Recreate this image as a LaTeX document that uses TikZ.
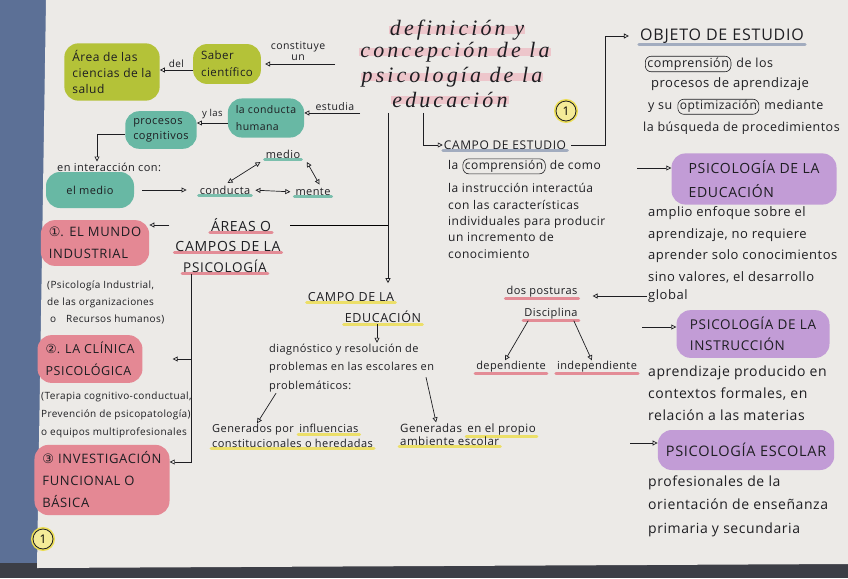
\documentclass[tikz,border=0pt]{standalone}
\usepackage{fontspec}
\setsansfont{Open Sans}
\newfontfamily\hand{Open Sans}[LetterSpace=4]
\newfontfamily\capsf{Open Sans}[LetterSpace=5]
\newfontfamily\titlef{Liberation Serif}[LetterSpace=14]
\newfontfamily\symf{DejaVu Sans}
\usepackage{tikz}
\usetikzlibrary{arrows.meta,positioning,calc}
\pgfdeclarelayer{paper}
\pgfdeclarelayer{bg}
\pgfsetlayers{paper,bg,main}
\definecolor{paper}{RGB}{236,234,231}
\definecolor{edge}{RGB}{92,112,150}
\definecolor{edgedark}{RGB}{60,62,70}
\definecolor{leaf}{RGB}{180,194,56}
\definecolor{aqua}{RGB}{104,184,164}
\definecolor{rose}{RGB}{228,136,148}
\definecolor{lilac}{RGB}{194,156,214}
\definecolor{marker}{RGB}{236,222,84}
\definecolor{pinkline}{RGB}{226,124,136}
\definecolor{slate}{RGB}{150,162,184}
\definecolor{titlepink}{RGB}{238,170,180}
\definecolor{ink}{RGB}{30,30,34}
\newcommand{\hw}[2]{\fontsize{#1}{#2}\selectfont\hand}
\newcommand{\cp}[2]{\fontsize{#1}{#2}\selectfont\capsf}

\begin{document}
\begin{tikzpicture}[x=1pt,y=-1pt,
    txt/.style={inner sep=1pt,text=ink,font=\hw{11}{13}},
    blk/.style={txt,align=left},
    blob/.style={rounded corners=14pt,inner xsep=8pt,inner ysep=7pt,align=left,text=ink},
    circw/.style={txt,draw=ink,line width=0.6pt,rounded corners=6pt,inner xsep=2pt,inner ysep=1.5pt},
    numc/.style={circle,draw=ink,line width=0.8pt,fill=marker!60,minimum size=20pt,inner sep=0pt,
      font=\hw{12}{12},preaction={draw=marker,line width=4pt}},
    ar/.style={-{Triangle[open,length=5pt,width=5pt]},line width=0.7pt,draw=ink},
    dar/.style={{Triangle[open,length=5pt,width=5pt]}-{Triangle[open,length=5pt,width=5pt]},line width=0.7pt,draw=ink},
    ul/.style={line width=3pt,line cap=round,opacity=0.85},
    ttl/.style={inner sep=1pt,text=ink,font={\fontsize{22}{24}\selectfont\titlef\itshape}}
]
\begin{pgfonlayer}{paper}
\fill[edge] (0,0) rectangle (848,578);
\fill[edgedark] (0,563) rectangle (848,578);
\fill[paper] (46,0) -- (848,0) -- (848,564) -- (37,568) -- cycle;
\end{pgfonlayer}
\useasboundingbox (0,0) rectangle (848,578);

% title
\node[ttl] (t1) at (457,30) {definición y};
\node[ttl] (t2) at (455,52) {concepción de la};
\node[ttl] (t3) at (452,77) {psicología de la};
\node[ttl] (t4) at (450,100) {educación};
\node[numc] (n1) at (566,111) {1};

% upper left
\node[blob,fill=leaf,font=\hw{12}{16}] (area) at (112,72) {Área de las\\ciencias de la\\salud};
\node[blob,fill=leaf,font=\hw{11.5}{17}] (saber) at (227,64) {Saber\\científico};
\node[blob,fill=aqua,font=\hw{10.5}{17}] (hum) at (266,118) {la conducta\\humana};
\node[blob,fill=aqua,font=\hw{11}{15}] (proc) at (161,130) {procesos\\cognitivos};
\node[txt,anchor=west] (inter) at (56,167) {en interacción con:};
\node[blob,fill=aqua,font=\hw{11}{13},minimum width=88pt,minimum height=36pt,align=center] (elmedio) at (90,190) {el medio};
\node[txt] (cond) at (225,190) {conducta};
\node[txt] (medio) at (283,154) {medio};
\node[txt] (mente) at (313,192) {mente};

% areas
\node[txt,font=\cp{14}{16}] (ar1) at (241,225) {ÁREAS O};
\node[txt,font=\cp{14}{16}] (ar2) at (228,246) {CAMPOS DE LA};
\node[txt,font=\cp{13.5}{16}] (ar3) at (225,266) {PSICOLOGÍA};
\node[blob,fill=rose,font=\cp{13}{22},minimum width=108pt] (ind) at (95,243) {{\symf ①}. EL MUNDO\\INDUSTRIAL};
\node[blk,anchor=west,font=\hw{10}{17}] (indtxt) at (46,302) {(Psicología Industrial,\\de las organizaciones\\\ o\quad Recursos humanos)};
\node[blob,fill=rose,font=\cp{12.5}{22},minimum width=103pt] (cli) at (90,359) {{\symf ②}. LA CLÍNICA\\PSICOLÓGICA};
\node[blk,anchor=west,font=\hw{10}{18}] (clitxt) at (40,415) {(Terapia cognitivo-conductual,\\Prevención de psicopatología)\\o equipos multiprofesionales};
\node[blob,fill=rose,font=\cp{13}{22},minimum width=135pt] (inv) at (102,480) {{\symf ③} INVESTIGACIÓN\\FUNCIONAL O\\BÁSICA};
\node[numc] (n2) at (43,539) {1};

% centre
\node[txt,font=\cp{12.5}{14}] (cel1) at (351,297) {CAMPO DE LA};
\node[txt,font=\cp{12.5}{14}] (cel2) at (383,317) {EDUCACIÓN};
\node[blk,anchor=west,font=\hw{11}{18.5}] (diag) at (268,368) {diagnóstico y resolución de\\problemas en las escolares en\\problemáticos:};
\node[txt,anchor=west,font=\hw{11}{12}] (gen1a) at (211,430) {Generados por};
\node[txt,base right=3pt of gen1a,font=\hw{11}{12}] (gen1b) {influencias};
\node[txt,anchor=north west,font=\hw{11}{12}] (gen1c) at ([yshift=-1pt]gen1a.south west) {constitucionales o heredadas};
\node[txt,anchor=west,font=\hw{11.5}{12}] (gen2a) at (399,428) {Generadas};
\node[txt,base right=3pt of gen2a,font=\hw{11.5}{12}] (gen2b) {en el propio};
\node[txt,anchor=north west,font=\hw{11.5}{12}] (gen2c) at ([yshift=-2pt]gen2a.south west) {ambiente escolar};

% campo de estudio
\node[txt,font=\cp{12}{14}] (ce) at (505,145) {CAMPO DE ESTUDIO};
\node[txt,anchor=west,font=\hw{12}{13}] (cela) at (447,165) {la};
\node[circw,base right=3pt of cela,font=\hw{12}{13}] (celc) {comprensión};
\node[txt,base right=3pt of celc,font=\hw{12}{13}] (celd) {de como};
\node[blk,anchor=west,font=\hw{12}{16.3}] (cebody) at (447,221) {la instrucción interactúa\\con las características\\individuales para producir\\un incremento de\\conocimiento};

% right column
\node[txt,font=\cp{16}{18}] (obj) at (722,36) {OBJETO DE ESTUDIO};
\node[circw,anchor=west,font=\hw{12.5}{14}] (objc) at (645,64) {comprensión};
\node[txt,base right=4pt of objc,font=\hw{12.5}{14}] (objd) {de los};
\node[txt,anchor=west,font=\hw{13}{14}] (objp) at (650,84) {procesos de aprendizaje};
\node[txt,anchor=west,font=\hw{12.5}{14}] (ysu) at (647,108) {y su};
\node[circw,base right=4pt of ysu,font=\hw{12}{14}] (opt) {optimización};
\node[txt,base right=4pt of opt,font=\hw{12.5}{14}] (med) {mediante};
\node[txt,anchor=west,font=\hw{12.5}{14}] (busq) at (642,128) {la búsqueda de procedimientos};

\node[blob,fill=lilac,font=\cp{14}{24},minimum width=165pt,minimum height=48pt] (psicedu) at (754,179) {PSICOLOGÍA DE LA\\EDUCACIÓN};
\node[blk,anchor=west,font=\hw{13}{21.7}] (amplio) at (647,245) {amplio enfoque sobre el\\aprendizaje, no requiere\\aprender solo conocimientos\\sino valores, el desarrollo};
\node[txt,anchor=west,font=\hw{13}{14}] (global) at (647,296) {global};
\node[txt] (post) at (542,292) {dos posturas};
\node[txt] (disc) at (551,314) {Disciplina};
\node[txt] (dep) at (511,367) {dependiente};
\node[txt] (indep) at (597,367) {independiente};
\node[blob,fill=lilac,font=\cp{13.5}{21},minimum width=153pt,minimum height=46pt] (psicins) at (753,334) {PSICOLOGÍA DE LA\\INSTRUCCIÓN};
\node[blk,anchor=west,font=\hw{14}{22}] (instxt) at (647,393) {aprendizaje producido en\\contextos formales, en\\relación a las materias};
\node[blob,fill=lilac,font=\cp{14.5}{16},minimum width=175pt,minimum height=40pt] (psicesc) at (746,450) {PSICOLOGÍA ESCOLAR};
\node[blk,anchor=west,font=\hw{14}{23.5}] (esctxt) at (647,506) {profesionales de la\\orientación de enseñanza\\primaria y secundaria};

% helper points
\coordinate (c1) at ([xshift=-120pt]t2.center);
\coordinate (c2) at ([yshift=-6pt]saber.west);
\coordinate (c3) at ([yshift=-5pt]hum.west);
\coordinate (c4) at ([xshift=-5pt]ar2.west);
\coordinate (c8) at ([xshift=-90pt,yshift=-4pt]t4.south);
\coordinate (vx) at ([xshift=-62pt,yshift=-4pt]t4.south);
\coordinate (vy) at ([xshift=-27pt,yshift=-4pt]t4.south);
\coordinate (vl) at ([xshift=9pt]ar3.south west);
\coordinate (c5) at ([xshift=38pt]ce.east);
\coordinate (c6) at ([xshift=-6pt]cel2.south);
\coordinate (c7) at ([yshift=18pt]inv.east);
\coordinate (pe0) at (637,168);
\coordinate (pi0) at (642,327);
\coordinate (ps0) at (630,443);

% connectors
\draw[ar,shorten >=4pt] (c1 |- saber.east) -- node[txt,above=2pt,align=center,font=\hw{10.5}{11}] (const) {constituye\\un} (saber.east);
\draw[ar] (c2) -- node[txt,above=1pt,font=\hw{10}{11}] (del) {del} (c2 -| area.east);
\draw[ar] (c8) -- node[txt,pos=0.45,above=1pt,font=\hw{10.5}{12}] (estud) {estudia} (c8 -| hum.east);
\draw[ar] (c3) -- node[txt,above=3pt,font=\hw{9.5}{11}] (ylas) {y las} (c3 -| proc.east);
\draw[ar] ([yshift=-4pt]proc.west) -| ([xshift=41pt]inter.north west);
\draw[ar,shorten <=8pt,shorten >=12pt] (elmedio.east) -- (cond.west);
\draw[dar,shorten <=3pt,shorten >=5pt] (cond.north) -- (medio.south west);
\draw[dar,shorten <=4pt,shorten >=4pt] (cond.east) -- (mente.west);
\draw[dar,shorten <=3pt,shorten >=3pt] ([xshift=4pt]medio.south east) -- ([xshift=8pt]mente.north);

\draw[ar] (c4 |- ar1.center) -- (ind.east |- ar1.center);
\draw[shorten <=18pt] (ar1.east) -- (ar1.east -| vx);
\draw[ar,shorten >=8pt] (vx) -- (vx |- cel1.north);
\draw[ar] (vl) |- (c7);
\draw[ar,shorten >=30pt] (vl |- cli.east) -- (cli.east);

\draw[ar] (vy) |- (ce.west);
\draw[ar,shorten <=4pt,shorten >=10pt] (ce.east) -- (c5) |- (obj.west);
\draw[ar] (c6) -- (c6 |- diag.north);
\draw[ar] ([xshift=8pt]diag.south west) -- ([xshift=4pt]gen1a.north);
\draw[ar] ([xshift=158pt,yshift=16pt]diag.south west) -- ([xshift=5pt]gen2a.north);

\draw[ar] (pe0) -- (pe0 -| psicedu.west);
\draw[ar] (pi0) -- (pi0 -| psicins.west);
\draw[ar] (ps0) -- (ps0 -| psicesc.west);
\draw[ar,shorten >=14pt] (global.west) -- (global.west -| post.east);
\draw[ar] ([xshift=5pt]disc.south west) -- ([xshift=-6pt]dep.north);
\draw[ar] ([xshift=-5pt]disc.south east) -- ([xshift=36pt]indep.north west);

% marker strokes
\begin{pgfonlayer}{bg}
\foreach \n in {t1,t2,t3,t4}
  \draw[line width=8pt,titlepink,opacity=0.55] (\n.west) -- (\n.east);
\foreach \n in {cond,medio,mente}
  \draw[ul,aqua] (\n.south west) -- (\n.south east);
\foreach \n in {ar1,ar2,ar3,post,disc,dep,indep}
  \draw[ul,pinkline] (\n.south west) -- (\n.south east);
\foreach \n in {cel1,cel2,gen1b,gen1c,gen2b,gen2c}
  \draw[ul,marker] (\n.south west) -- (\n.south east);
\foreach \n in {obj,ce}
  \draw[ul,slate] (\n.south west) -- (\n.south east);
\end{pgfonlayer}
\end{tikzpicture}
\end{document}
